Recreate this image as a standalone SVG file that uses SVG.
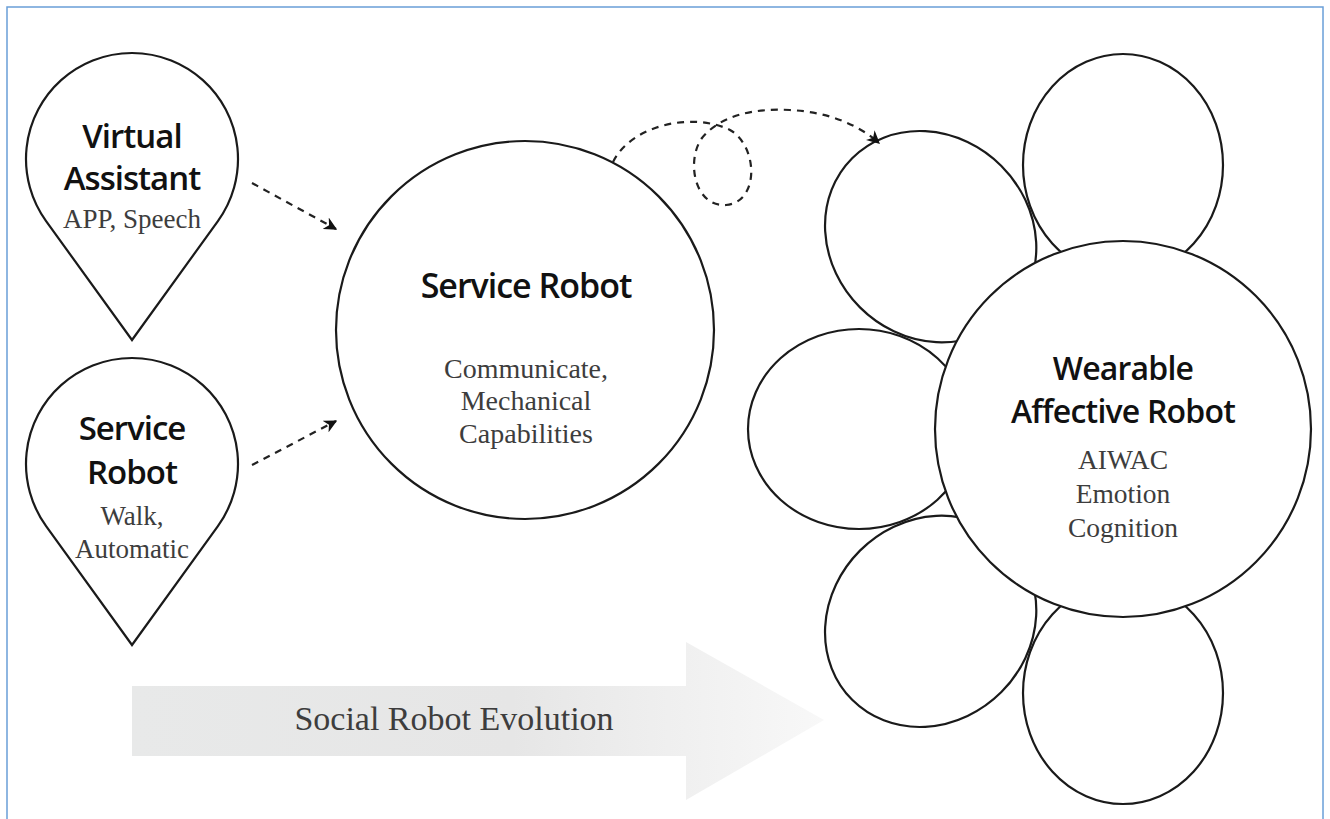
<svg xmlns="http://www.w3.org/2000/svg" width="1330" height="819" viewBox="0 0 1330 819">
<style>
.shape{fill:#fff;stroke:#1a1a1a;stroke-width:2.2}
.petal{fill:none;stroke:#1a1a1a;stroke-width:2.2}
.title{font-family:"Open Sans","Noto Sans","DejaVu Sans",sans-serif;font-weight:600;fill:#111;text-anchor:middle}
.sub{font-family:"Liberation Serif","DejaVu Serif",serif;fill:#3d3d3d;text-anchor:middle}
.dash{fill:none;stroke:#222;stroke-width:2.2;stroke-dasharray:7 6}
</style>
<defs>
<marker id="ah" viewBox="0 0 10 10" refX="9" refY="5" markerWidth="6" markerHeight="6" orient="auto" markerUnits="strokeWidth">
<path d="M0,0 L10,5 L0,10 L3,5 Z" fill="#111"/>
</marker>
<linearGradient id="evo" x1="132" y1="0" x2="824" y2="0" gradientUnits="userSpaceOnUse">
<stop offset="0" stop-color="#e8e9e9"/>
<stop offset="0.55" stop-color="#e6e6e6"/>
<stop offset="1" stop-color="#f8f8f8"/>
</linearGradient>
</defs>
<rect x="7" y="7" width="1316" height="830" fill="#fff" stroke="#6a9fd8" stroke-width="1.5"/>

<g id="evolution-arrow">
<path d="M132,686 L686,686 L686,642 L824,720 L686,800 L686,756 L132,756 Z" fill="url(#evo)"/>
<text class="sub" x="454" y="730" font-size="34">Social Robot Evolution</text>
</g>

<g id="virtual-assistant">
<path class="shape" d="M132,340 L46.1,221.1 A106,106 0 1,1 217.9,221.1 Z"/>
<text class="title" x="132" y="148" font-size="33" letter-spacing="-1">Virtual</text>
<text class="title" x="132" y="190" font-size="33" letter-spacing="-1">Assistant</text>
<text class="sub" x="132" y="228" font-size="27">APP, Speech</text>
</g>

<g id="service-robot-drop">
<path class="shape" d="M132,645 L46.1,526.1 A106,106 0 1,1 217.9,526.1 Z"/>
<text class="title" x="132" y="440" font-size="33" letter-spacing="-1">Service</text>
<text class="title" x="132" y="484" font-size="33" letter-spacing="-1">Robot</text>
<text class="sub" x="132" y="525" font-size="27">Walk,</text>
<text class="sub" x="132" y="558" font-size="27">Automatic</text>
</g>

<g id="service-robot">
<circle class="shape" cx="525" cy="330" r="189"/>
<text class="title" x="526" y="298" font-size="34" font-weight="500" letter-spacing="-1">Service Robot</text>
<text class="sub" x="526" y="378" font-size="28">Communicate,</text>
<text class="sub" x="526" y="410" font-size="28">Mechanical</text>
<text class="sub" x="526" y="443" font-size="28">Capabilities</text>
</g>

<g id="wearable-affective-robot">
<ellipse class="petal" cx="1123" cy="165" rx="100" ry="111"/>
<ellipse class="petal" cx="1123" cy="157" rx="100" ry="111" transform="rotate(-45 1123 429)"/>
<ellipse class="petal" cx="1123" cy="165" rx="100" ry="111" transform="rotate(-90 1123 429)"/>
<ellipse class="petal" cx="1123" cy="157" rx="100" ry="111" transform="rotate(-135 1123 429)"/>
<ellipse class="petal" cx="1123" cy="165" rx="100" ry="111" transform="rotate(180 1123 429)"/>
<circle class="shape" cx="1123" cy="429" r="188"/>
<text class="title" x="1123" y="380" font-size="32" letter-spacing="-0.8">Wearable</text>
<text class="title" x="1123" y="423" font-size="32" letter-spacing="-0.8">Affective Robot</text>
<text class="sub" x="1123" y="469" font-size="27.5">AIWAC</text>
<text class="sub" x="1123" y="503" font-size="27.5">Emotion</text>
<text class="sub" x="1123" y="537" font-size="27.5">Cognition</text>
</g>

<g id="connectors">
<path class="dash" d="M252,183 L336,229" marker-end="url(#ah)"/>
<path class="dash" d="M252,465 L336,421" marker-end="url(#ah)"/>
<path class="dash" d="M613,162 C632,124 694,112 730,130 C758,146 760,202 726,205 C694,207 686,160 702,138 C720,116 752,108 790,110 C830,112 860,126 879,143" marker-end="url(#ah)"/>
</g>
</svg>
